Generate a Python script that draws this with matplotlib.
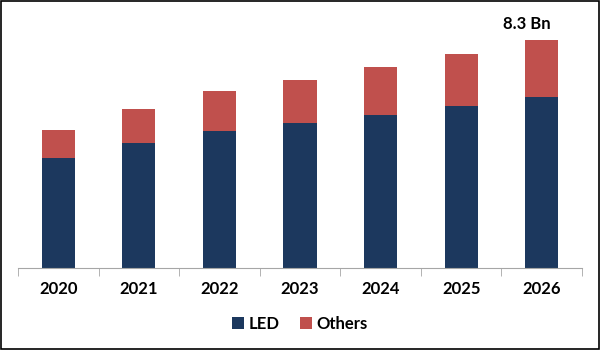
import numpy as np
import matplotlib.pyplot as plt
from matplotlib.patches import Rectangle

plt.rcParams["font.family"] = ["Lato", "DejaVu Sans"]

years = ["2020", "2021", "2022", "2023", "2024", "2025", "2026"]
led = [4.00, 4.55, 4.99, 5.28, 5.57, 5.90, 6.22]
others = [1.02, 1.24, 1.46, 1.57, 1.75, 1.89, 2.08]
total_label = "8.3 Bn"

navy = "#1c385e"
red = "#c0504d"

fig = plt.figure(figsize=(6, 3.5), dpi=100)
ax = fig.add_axes([0.03, 0.234, 0.94, 0.736])

x = np.arange(len(years))
ax.bar(x, led, width=0.41, color=navy, label="LED")
ax.bar(x, others, width=0.41, bottom=led, color=red, label="Others")

ax.set_xlim(-0.5, len(years) - 0.5)
ax.set_ylim(0, 9.38)
ax.set_yticks([])
for side in ["top", "right", "left"]:
    ax.spines[side].set_visible(False)
ax.spines["bottom"].set_color("#a6a6a6")

ax.set_xticks(x)
ax.set_xticklabels(years, fontsize=12, fontweight="bold")
ax.tick_params(axis="x", which="major", length=0, pad=9)
ax.set_xticks(np.arange(-0.5, len(years)), minor=True)
ax.tick_params(axis="x", which="minor", length=6, color="#a6a6a6", direction="out")

# value label above last bar
ax.text(x[-1] - 0.18, led[-1] + others[-1] + 0.6, total_label,
        ha="center", va="center", fontsize=12, fontweight="bold")

ax.legend(loc="center", bbox_to_anchor=(0.5, 0.074), bbox_transform=fig.transFigure,
          ncol=2, frameon=False, handlelength=0.7, handleheight=0.7,
          handletextpad=0.3, columnspacing=1.2,
          prop={"weight": "bold", "size": 12})

# outer border
fig.patches.append(Rectangle((0.001, 0.002), 0.997, 0.995, transform=fig.transFigure,
                             fill=False, edgecolor="black", linewidth=1.2))

fig.savefig("out.png", dpi=100)
